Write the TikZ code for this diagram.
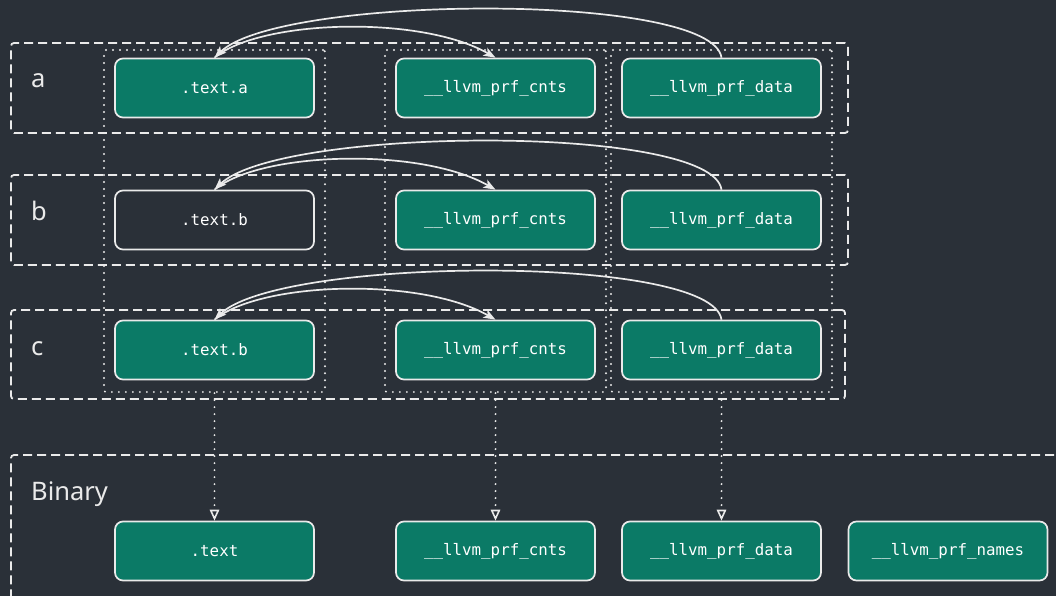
\documentclass[tikz,border=0pt]{standalone}
\usepackage{fontspec}
\setmainfont{Noto Sans}
\setmonofont{DejaVu Sans Mono}
\usetikzlibrary{arrows.meta}
\definecolor{bgc}{HTML}{2A3038}
\definecolor{teal}{HTML}{0B7A66}
\definecolor{ink}{HTML}{EAEAEA}
\tikzset{
  section/.style={draw=ink, fill=teal, rounded corners=8pt, line width=1.7pt,
    minimum width=199pt, minimum height=59pt, inner sep=0pt,
    text=white, font=\ttfamily\fontsize{15.8}{18}\selectfont},
  plainsection/.style={section, fill=bgc},
  group/.style={draw=ink, dash pattern=on 9pt off 5pt, line width=1.8pt,
    rounded corners=3pt, inner sep=0pt},
  column/.style={draw=ink, dash pattern=on 0pt off 7pt, line width=2.2pt,
    line cap=round, rounded corners=2pt, inner sep=0pt,
    minimum width=221pt, minimum height=342pt},
  grouplabel/.style={anchor=base west, text=ink, inner sep=0pt,
    font=\fontsize{25.5}{30}\selectfont},
  ref/.style={draw=ink, line width=1.7pt,
    -{Stealth[length=12pt,width=9pt,inset=3pt]}},
  link/.style={draw=ink, line width=2.2pt, line cap=round,
    dash pattern=on 0pt off 7pt,
    -{Triangle[length=11pt,width=9.5pt,fill=bgc,line width=1.6pt]}}
}
\begin{document}
\begin{tikzpicture}[x=1pt,y=-1pt]
  % canvas
  \fill[bgc] (0,0) rectangle (1056,596);
  \useasboundingbox (0,0) rectangle (1056,596);

  % object files and the final binary
  \node[group, minimum width=837pt, minimum height=90pt] (ga) at (429.5,88) {};
  \node[group, minimum width=837pt, minimum height=90pt] (gb) at (429.5,220) {};
  \node[group, minimum width=834pt, minimum height=89pt] (gc) at (428,354.5) {};
  \begin{scope}
    \clip (0,0) rectangle (1056,596);
    \node[group, minimum width=1060pt, minimum height=146pt] (gbin) at (541,528) {};
  \end{scope}

  \node[grouplabel] (la) at (31,88) {a};
  \node[grouplabel] (lb) at (31,220) {b};
  \node[grouplabel] (lc) at (31,355) {c};
  \node[grouplabel] (lbin) at (31,500) {Binary};

  % sections that get merged into one output section
  \node[column] (col1) at (214.5,221) {};
  \node[column] (col2) at (495.5,221) {};
  \node[column] (col3) at (721.5,221) {};

  % input sections
  \node[section] (ta) at (214.5,88) {.text.a};
  \node[section] (ca) at (495.5,88) {\_\_llvm\_prf\_cnts};
  \node[section] (da) at (721.5,88) {\_\_llvm\_prf\_data};

  \node[plainsection] (tb) at (214.5,220) {.text.b};
  \node[section] (cb) at (495.5,220) {\_\_llvm\_prf\_cnts};
  \node[section] (db) at (721.5,220) {\_\_llvm\_prf\_data};

  \node[section] (tc) at (214.5,350) {.text.b};
  \node[section] (cc) at (495.5,350) {\_\_llvm\_prf\_cnts};
  \node[section] (dc) at (721.5,350) {\_\_llvm\_prf\_data};

  % output sections
  \node[section] (bt) at (214.5,551) {.text};
  \node[section] (bc) at (495.5,551) {\_\_llvm\_prf\_cnts};
  \node[section] (bd) at (721.5,551) {\_\_llvm\_prf\_data};
  \node[section] (bn) at (948,551) {\_\_llvm\_prf\_names};

  % references inside each object file
  \foreach \t/\c/\d in {ta/ca/da, tb/cb/db, tc/cc/dc} {
    \draw[ref] (\d.north) .. controls +(-9.5,-66) and +(65.5,-63) .. (\t.north);
    \draw[ref] (\t.north) .. controls +(45.5,-38) and +(-75.5,-43) .. (\c.north);
  }

  % merging into the binary
  \draw[link] (col1.south) -- (bt.north);
  \draw[link] (col2.south) -- (bc.north);
  \draw[link] (col3.south) -- (bd.north);
\end{tikzpicture}
\end{document}
